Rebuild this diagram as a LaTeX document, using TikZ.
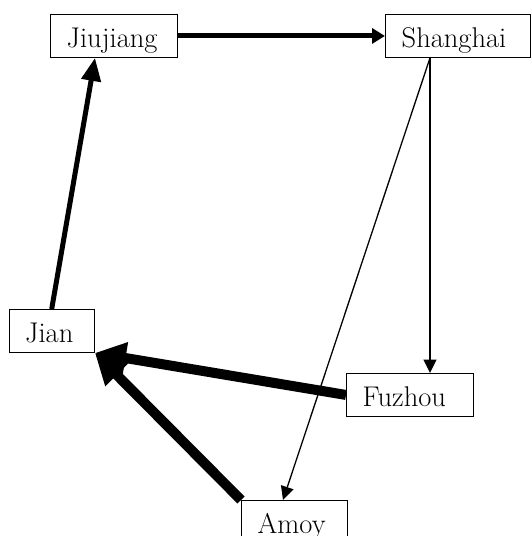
\documentclass[tikz,border=0pt]{standalone}
\usetikzlibrary{arrows.meta,calc}
\begin{document}
\begin{tikzpicture}[x=1pt,y=1pt,
  city/.style={draw, line width=1.4pt, anchor=north west, inner xsep=16pt, inner ysep=0pt,
    text height=33pt, text depth=9.5pt, align=left, font=\fontsize{28.5}{32}\selectfont},
  thin/.style={line width=1.3pt, -{Triangle[length=13.5pt,width=13pt]}},
  bold/.style={line width=5pt, -{Triangle[length=13pt,width=15pt]}},
  boldlong/.style={line width=5pt, -{Triangle[length=23pt,width=19pt]}},
  heavy/.style={line width=10pt, -{Triangle[length=31pt,width=30pt]}}]
\useasboundingbox (0,0) rectangle (532,-536);
\node[city, text width=95pt] (jj) at (50,-14) {Jiujiang};
\node[city, text width=113pt] (sh) at (385,-14) {Shanghai};
\node[city, text width=53pt] (jian) at (8.5,-309) {Jian};
\node[city, text width=95pt] (fz) at (346,-373) {Fuzhou};
\node[city, text width=74pt] (amoy) at (241,-500) {Amoy};
\coordinate (shout) at ($(sh.south west)+(45,0)$);
\draw[bold] (jj.east) -- (sh.west);
\draw[boldlong] (jian.north) -- ($(jj.south west)+(45,0)$);
\draw[thin] (shout) -- ($(fz.north west)+(84,0)$);
\draw[thin] (shout) -- ($(amoy.north west)+(42,0)$);
\draw[heavy] (fz.west) -- (jian.south east);
\draw[heavy] (amoy.north west) -- (jian.south east);
\end{tikzpicture}
\end{document}
